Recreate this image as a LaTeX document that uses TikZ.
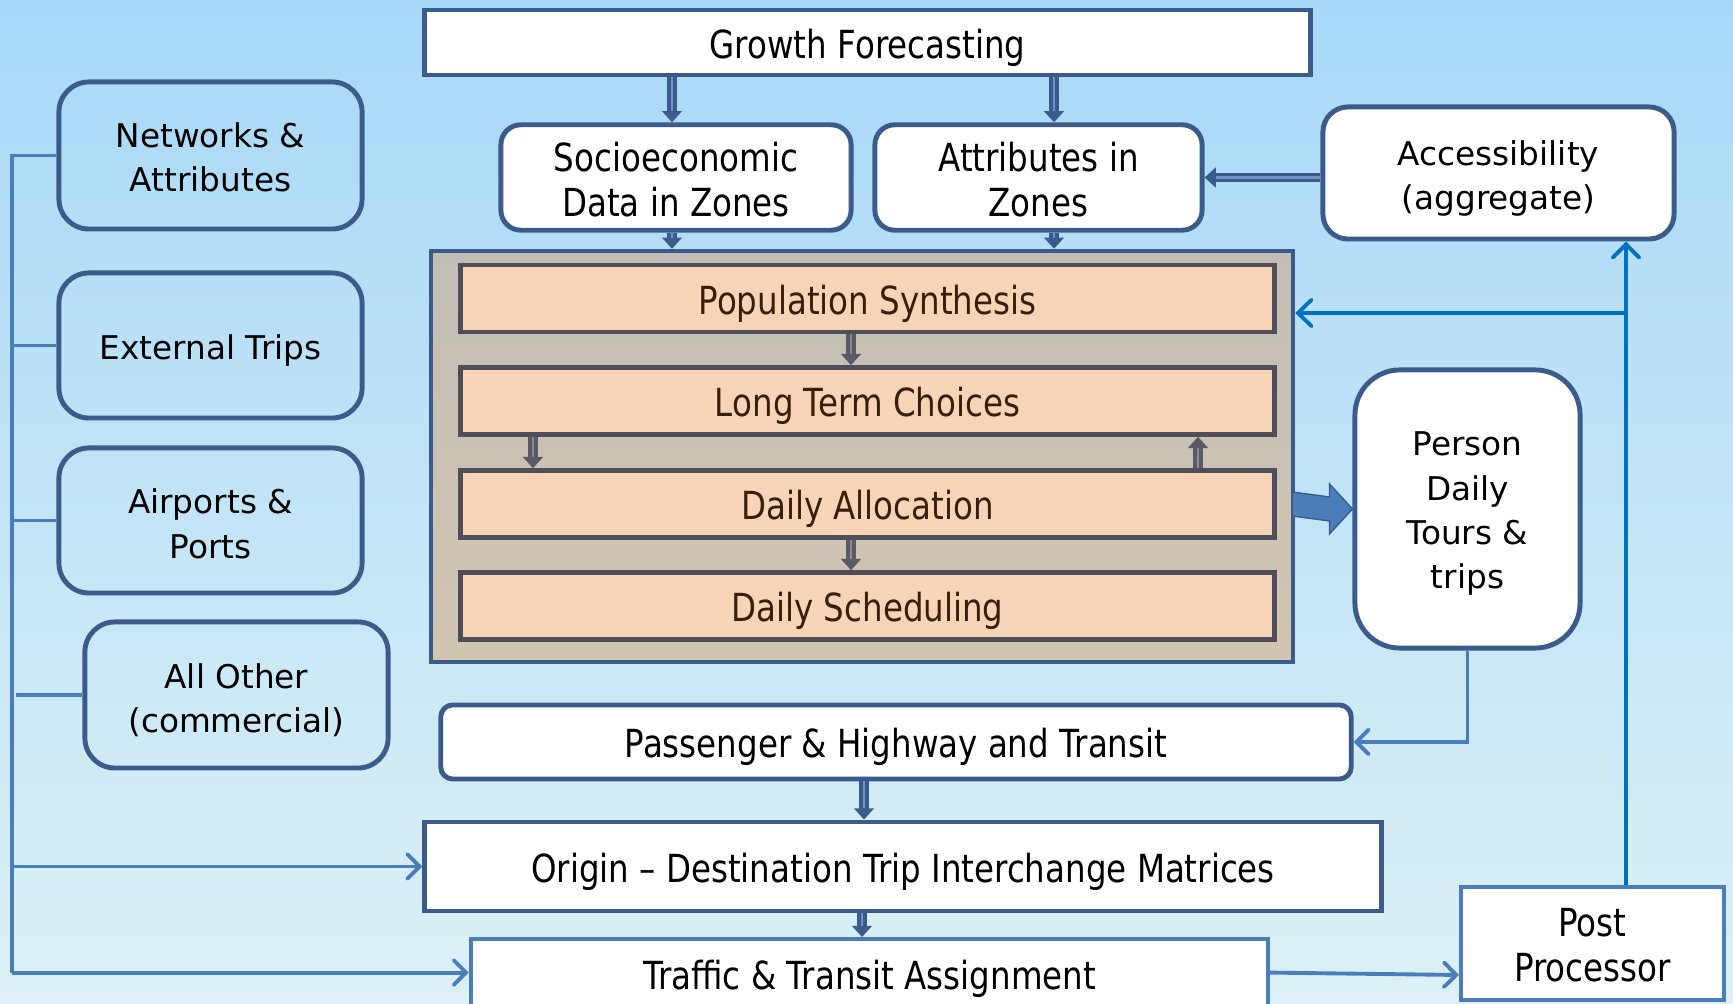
\documentclass[tikz,border=0pt]{standalone}
\usepackage{fontspec}
\setmainfont{DejaVu Sans}
\newfontfamily\cndfam[FakeStretch=0.84]{DejaVu Sans}
\usetikzlibrary{arrows.meta,calc}
\newcommand\regf{\fontsize{9.3pt}{12.6pt}\selectfont}
\newcommand\cndf{\cndfam\fontsize{11pt}{12.8pt}\selectfont}
\newcommand\ml[2][0pt]{\raisebox{0pt}[\dimexpr\height+#1\relax][\depth]{\begin{tabular}{@{}c@{}}#2\end{tabular}}}
\definecolor{dkblue}{HTML}{3B5C8B}
\definecolor{mdblue}{HTML}{4A7EBB}
\definecolor{brblue}{HTML}{0070C0}
\definecolor{bgtop}{HTML}{A8D8F8}
\definecolor{bgbot}{HTML}{DDF1F6}
\definecolor{ctop}{HTML}{C2BEB6}
\definecolor{cbot}{HTML}{D2C6B2}
\definecolor{ofill}{HTML}{F8D5B7}
\definecolor{obord}{HTML}{4F4E58}
\definecolor{otext}{HTML}{3A1E0C}
\definecolor{ltshaft}{HTML}{6F93C6}
\definecolor{gshaft}{HTML}{5A5966}
\definecolor{glt}{HTML}{8E8B96}
\tikzset{
  tshift/.style={execute at begin node={\rule{0pt}{\dimexpr0.76em+2.8pt\relax}}},
  sqbox/.style={draw=dkblue, line width=1.4pt, fill=white, inner sep=0pt, font=\cndf, tshift},
  rndbox/.style={sqbox, rounded corners=0.2cm},
  lbox/.style={draw=dkblue, line width=1.4pt, rounded corners=0.3cm, inner sep=0pt, font=\regf, tshift},
  obox/.style={draw=obord, line width=1.3pt, fill=ofill, text=otext, inner sep=0pt, font=\cndf, tshift, minimum width=8.13cm, minimum height=0.67cm},
  dblarrow/.style={draw=dkblue, line width=2.7pt, -{Triangle[length=3.2pt,width=5.6pt]},
     postaction={draw=ltshaft, line width=0.8pt, -, shorten >=3.2pt}},
  gryarrow/.style={draw=gshaft, line width=2.7pt, -{Triangle[length=3.2pt,width=5.6pt]},
     postaction={draw=glt, line width=0.8pt, -, shorten >=3.2pt}},
  brarrow/.style={draw=brblue, line width=1.1pt, -{Straight Barb[length=3.8pt,width=7.5pt,line cap=round]}},
  mdline/.style={draw=mdblue, line width=1.1pt},
  mdarrow/.style={mdline, -{Straight Barb[length=3.5pt,width=7pt,line cap=round]}}
}
\begin{document}
\begin{tikzpicture}[x=0.01cm, y=-0.01cm]
\useasboundingbox (0,0) rectangle (1733,1004);
\shade[top color=bgtop, bottom color=bgbot] (0,0) rectangle (1733,1004);

% top row
\node[sqbox, minimum width=8.85cm, minimum height=0.65cm] (growth) at (867.5,42.5) {Growth Forecasting};
\node[rndbox, minimum width=3.50cm, minimum height=1.03cm] (socio) at (676,177.5) {\ml[4.4pt]{Socioeconomic\\Data in Zones}};
\node[rndbox, minimum width=3.27cm, minimum height=1.03cm] (attr) at (1038.5,177.5) {\ml[4.4pt]{Attributes in\\Zones}};
\node[rndbox, rounded corners=0.25cm, font=\regf, minimum width=3.51cm, minimum height=1.32cm] (access) at (1498.5,173) {\ml[3.1pt]{Accessibility\\(aggregate)}};

% left inputs
\node[lbox, minimum width=3.03cm, minimum height=1.47cm] (net) at (210.5,155.5) {\ml[3.1pt]{Networks \&\\Attributes}};
\node[lbox, minimum width=3.03cm, minimum height=1.45cm] (ext) at (210.5,345.5) {External Trips};
\node[lbox, minimum width=3.03cm, minimum height=1.45cm] (air) at (210.5,520.5) {\ml[3.8pt]{Airports \&\\Ports}};
\node[lbox, minimum width=3.03cm, minimum height=1.46cm] (other) at (236.5,695) {\ml[3.8pt]{All Other\\(commercial)}};

% container with activity steps
\node[draw=dkblue, line width=1.2pt, top color=ctop, bottom color=cbot, minimum width=8.62cm, minimum height=4.11cm, inner sep=0pt] (cont) at (862,456.5) {};
\node[obox] (pop) at (867.5,298.5) {Population Synthesis};
\node[obox] (long) at (867.5,401) {Long Term Choices};
\node[obox] (alloc) at (867.5,504) {Daily Allocation};
\node[obox] (sched) at (867.5,606) {Daily Scheduling};

\node[rndbox, rounded corners=0.45cm, font=\regf, minimum width=2.25cm, minimum height=2.78cm] (person) at (1467.5,509) {\ml[2.5pt]{Person\\Daily\\Tours \&\\trips}};

% lower part
\node[rndbox, rounded corners=0.12cm, minimum width=9.10cm, minimum height=0.74cm] (pass) at (896,742) {Passenger \& Highway and Transit};
\node[sqbox, minimum width=9.56cm, minimum height=0.89cm] (origin) at (903,866.5) {Origin – Destination Trip Interchange Matrices};
\node[sqbox, execute at begin node={}, draw=mdblue, line width=1.1pt, minimum width=7.97cm, minimum height=0.73cm] (traffic) at (869.5,975.5) {\raisebox{1pt}{Traffic \& Transit Assignment}};
\node[sqbox, draw=mdblue, line width=1.1pt, minimum width=2.63cm, minimum height=1.13cm] (post) at (1592.5,943.5) {\ml[3.8pt]{Post\\Processor}};

% double arrows
\draw[dblarrow] ($(growth.south -| socio.north)+(-4,0)$) -- ($(socio.north)+(-4,0)$);
\draw[dblarrow] ($(growth.south -| attr.north)+(15.5,0)$) -- ($(attr.north)+(15.5,0)$);
\draw[dblarrow] ($(socio.south)+(-4,0)$) -- ($(socio.south |- cont.north)+(-4,0)$);
\draw[dblarrow] ($(attr.south)+(15.5,0)$) -- ($(attr.south |- cont.north)+(15.5,0)$);
\draw[dblarrow] (access.west |- attr.east) -- (attr.east);
\draw[dblarrow] ($(pass.south)+(-32,0)$) -- ($(pass.south |- origin.north)+(-32,0)$);
\draw[dblarrow] ($(origin.south)+(-41,0)$) -- ($(origin.south |- traffic.north)+(-41,0)$);

% grey arrows in container
\draw[gryarrow] ($(pop.south)+(-16.5,0)$) -- ($(long.north)+(-16.5,0)$);
\draw[gryarrow] ($(long.south)+(-334.5,0)$) -- ($(alloc.north)+(-334.5,0)$);
\draw[gryarrow] ($(alloc.north)+(330.5,0)$) -- ($(long.south)+(330.5,0)$);
\draw[gryarrow] ($(alloc.south)+(-16.5,0)$) -- ($(sched.north)+(-16.5,0)$);

% block arrow to person
\coordinate (bs) at (cont.east |- alloc.east);
\fill[mdblue, draw=dkblue, line width=0.4pt] ($(bs)+(-3,-12)$) -- ($(person.west)+(-23,-12)$) -- ($(person.west)+(-23,-25)$) -- (person.west) -- ($(person.west)+(-23,25)$) -- ($(person.west)+(-23,12)$) -- ($(bs)+(-3,12)$) -- cycle;

% bright blue feedback
\coordinate (pj) at (1626,313);
\draw[brarrow] (post.north -| pj) -- (access.south -| pj);
\draw[brarrow] (pj) -- (cont.east |- pj);

% person to passenger
\draw[mdarrow] (person.south) |- (pass.east);

% left bus
\coordinate (bustop) at (12,155.5);
\coordinate (busbot) at (12,972.6);
\draw[mdline] (net.west) -- (bustop) -- (busbot);
\draw[mdline] (ext.west) -- (ext.west -| bustop);
\draw[mdline] (air.west) -- (air.west -| bustop);
\draw[mdline] (other.west) -- ++(-66,0);
\draw[mdarrow] (bustop |- origin.west) -- (origin.west);
\draw[mdarrow] (busbot) -- (traffic.west |- busbot);

% traffic to post
\draw[mdarrow] (traffic.east |- busbot) -- (post.west |- 0,975);
\end{tikzpicture}
\end{document}
